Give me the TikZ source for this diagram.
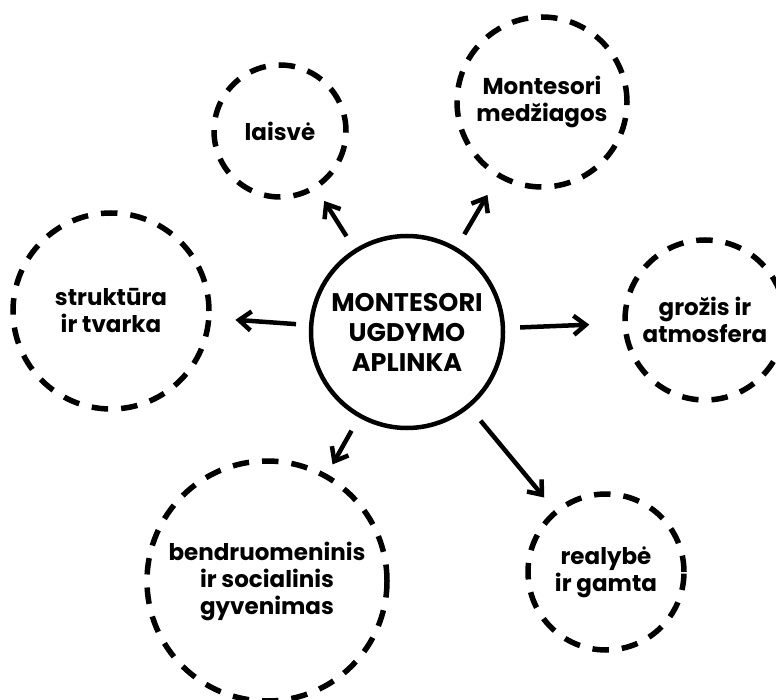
\documentclass[tikz,border=0pt]{standalone}
\usepackage{fontspec}
\setmainfont{Poppins}
\usetikzlibrary{arrows.meta}
\begin{document}
\begin{tikzpicture}[x=1pt,y=-1pt,
  hub/.style={circle, draw, line width=4.5pt, minimum size=192pt, inner sep=0pt,
    align=center, font=\bfseries\fontsize{25.5}{30}\selectfont},
  topic/.style={circle, draw, line width=5.5pt, dash pattern=on 16.5pt off 13pt,
    inner sep=0pt, align=center, font=\bfseries\fontsize{23}{27}\selectfont},
  link/.style={line width=4.5pt,
    -{Straight Barb[length=12pt,width=19pt,line width=4.5pt]}}
]
\useasboundingbox (0,0) rectangle (776,700);

% central hub
\node[hub] (hub) at (407,332) {MONTESORI\\UGDYMO\\APLINKA};

% surrounding topics
\node[topic, minimum size=132pt] (laisve) at (280,131) {laisvė};
\node[topic, minimum size=170pt] (medz) at (542,102) {Montesori\\medžiagos};
\node[topic, minimum size=160pt] (groz) at (705,320) {grožis ir\\atmosfera};
\node[topic, minimum size=196pt] (strukt) at (111,311) {struktūra\\ir tvarka};
\node[topic, minimum size=240pt] (bendr) at (267,581) {bendruomeninis\\ir socialinis\\gyvenimas};
\node[topic, minimum size=156pt] (real) at (606,572) {realybė\\ir gamta};

% connectors from the hub
\draw[link, shorten <=15pt, shorten >=14pt] (hub) -- (laisve);
\draw[link, shorten <=15pt, shorten >=20pt] (hub) -- (medz);
\draw[link, shorten <=15pt, shorten >=33pt] (hub) -- (groz);
\draw[link, shorten <=13pt, shorten >=24pt] (hub) -- (strukt);
\draw[link, shorten <=15pt, shorten >=11pt] (hub) -- (bendr);
\draw[link, shorten <=17pt, shorten >=16pt] (hub) -- (real);
\end{tikzpicture}
\end{document}
